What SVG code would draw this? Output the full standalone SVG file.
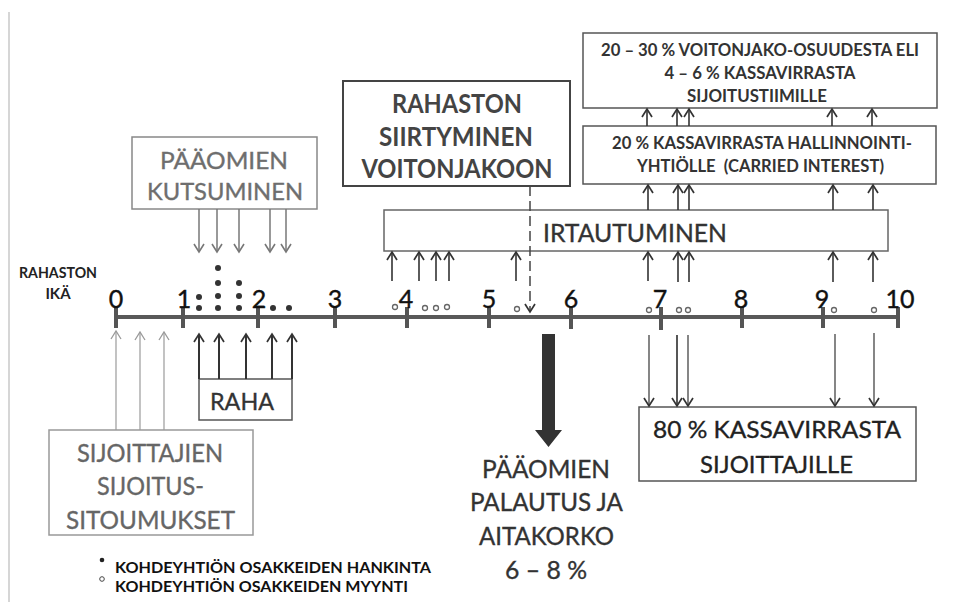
<svg xmlns="http://www.w3.org/2000/svg" width="953" height="605" viewBox="0 0 953 605">
<style>
text{font-family:Lato,"Open Sans","Liberation Sans",sans-serif}
.box{fill:#fff;stroke:#555;stroke-width:1.5}
.lbl{text-anchor:middle;font-size:24px;fill:#333;stroke:#333;stroke-width:0.35}
.grey{fill:#6e6e6e;stroke:#6e6e6e}
.bold{font-weight:bold}
.sm{font-size:16.5px;font-weight:bold;fill:#333;text-anchor:middle}
.tick{stroke:#555;stroke-width:4}
.num{font-size:25px;fill:#111;text-anchor:middle;stroke:#111;stroke-width:0.4}
.dot{fill:#333}
.odot{fill:#fff;stroke:#666;stroke-width:1.3}
.aDark{stroke:#333;stroke-width:1.6;fill:none;marker-end:url(#mDark)}
.aGrey{stroke:#777;stroke-width:1.5;fill:none;marker-end:url(#mGrey)}
.aLight{stroke:#9a9a9a;stroke-width:1.2;fill:none;marker-end:url(#mLight)}
</style>
<defs>
<marker id="mDark" viewBox="-10 -6 12 12" refX="0" refY="0" markerWidth="12" markerHeight="12" orient="auto" markerUnits="userSpaceOnUse"><path d="M-8,-5 L0,0 L-8,5" fill="none" stroke="#333" stroke-width="1.7"/></marker>
<marker id="mGrey" viewBox="-10 -6 12 12" refX="0" refY="0" markerWidth="12" markerHeight="12" orient="auto" markerUnits="userSpaceOnUse"><path d="M-8,-5 L0,0 L-8,5" fill="none" stroke="#777" stroke-width="1.6"/></marker>
<marker id="mLight" viewBox="-10 -6 12 12" refX="0" refY="0" markerWidth="12" markerHeight="12" orient="auto" markerUnits="userSpaceOnUse"><path d="M-8,-5 L0,0 L-8,5" fill="none" stroke="#9a9a9a" stroke-width="1.3"/></marker>
</defs>
<rect x="0" y="0" width="953" height="605" fill="#fff"/>
<line x1="9" y1="12" x2="9" y2="602" stroke="#bbb" stroke-width="1.2"/>

<g id="timeline">
<line x1="116" y1="317" x2="898" y2="317" stroke="#595959" stroke-width="4"/>
<line class="tick" x1="116" y1="307" x2="116" y2="328"/>
<line class="tick" x1="183" y1="307" x2="183" y2="328"/>
<line class="tick" x1="258" y1="307" x2="258" y2="328"/>
<line class="tick" x1="335" y1="307" x2="335" y2="328"/>
<line class="tick" x1="407" y1="307" x2="407" y2="328"/>
<line class="tick" x1="489" y1="307" x2="489" y2="328"/>
<line class="tick" x1="571" y1="307" x2="571" y2="329"/>
<line class="tick" x1="661" y1="307" x2="661" y2="330"/>
<line class="tick" x1="742" y1="307" x2="742" y2="328"/>
<line class="tick" x1="823" y1="307" x2="823" y2="328"/>
<line class="tick" x1="898" y1="307" x2="898" y2="328"/>
<text class="num" x="116" y="308">0</text>
<text class="num" x="184" y="308">1</text>
<text class="num" x="259" y="308">2</text>
<text class="num" x="335" y="308">3</text>
<text class="num" x="406" y="308">4</text>
<text class="num" x="489" y="308">5</text>
<text class="num" x="571" y="308">6</text>
<text class="num" x="660" y="308">7</text>
<text class="num" x="741" y="308">8</text>
<text class="num" x="822" y="308">9</text>
<text class="num" x="900" y="308">10</text>
<text class="bold" x="58" y="278" font-size="15" fill="#222" text-anchor="middle" textLength="78" lengthAdjust="spacingAndGlyphs">RAHASTON</text>
<text class="bold" x="58" y="299" font-size="15" fill="#222" text-anchor="middle">IKÄ</text>
</g>

<g id="acquisitions">
<circle class="dot" cx="199" cy="297" r="3"/>
<circle class="dot" cx="199" cy="308" r="3"/>
<circle class="dot" cx="218" cy="268" r="3"/>
<circle class="dot" cx="218" cy="283" r="3"/>
<circle class="dot" cx="218" cy="296" r="3"/>
<circle class="dot" cx="218" cy="308" r="3"/>
<circle class="dot" cx="239" cy="283" r="3"/>
<circle class="dot" cx="239" cy="296" r="3"/>
<circle class="dot" cx="239" cy="308" r="3"/>
<circle class="dot" cx="273" cy="308" r="3"/>
<circle class="dot" cx="289" cy="308" r="3"/>
</g>

<g id="sales">
<circle class="odot" cx="395" cy="307" r="2.5"/>
<circle class="odot" cx="425" cy="308" r="2.5"/>
<circle class="odot" cx="436" cy="308" r="2.5"/>
<circle class="odot" cx="447" cy="307" r="2.5"/>
<circle class="odot" cx="517" cy="309" r="2.5"/>
<circle class="odot" cx="649" cy="310" r="2.5"/>
<circle class="odot" cx="679" cy="310" r="2.5"/>
<circle class="odot" cx="688" cy="310" r="2.5"/>
<circle class="odot" cx="834" cy="310" r="2.5"/>
<circle class="odot" cx="874" cy="310" r="2.5"/>
</g>

<g id="kutsuminen">
<rect x="132" y="137" width="185" height="72" fill="#fff" stroke="#888" stroke-width="1.5"/>
<text class="lbl grey" x="224" y="169" textLength="128" lengthAdjust="spacingAndGlyphs">PÄÄOMIEN</text>
<text class="lbl grey" x="225" y="200" textLength="156" lengthAdjust="spacingAndGlyphs">KUTSUMINEN</text>
</g>

<g id="siirtyminen">
<rect x="343" y="81" width="227" height="105" fill="#fff" stroke="#444" stroke-width="2"/>
<text class="lbl bold" x="457" y="113" style="font-size:27px;fill:#444;stroke:none" textLength="130" lengthAdjust="spacingAndGlyphs">RAHASTON</text>
<text class="lbl bold" x="456" y="146" style="font-size:27px;fill:#444;stroke:none" textLength="154" lengthAdjust="spacingAndGlyphs">SIIRTYMINEN</text>
<text class="lbl bold" x="457" y="178" style="font-size:27px;fill:#444;stroke:none" textLength="191" lengthAdjust="spacingAndGlyphs">VOITONJAKOON</text>
</g>

<g id="irtautuminen">
<rect x="384" y="210" width="504" height="41" fill="#fff" stroke="#666" stroke-width="1.5"/>
<text class="lbl" x="635" y="242" style="font-size:25px" textLength="184" lengthAdjust="spacingAndGlyphs">IRTAUTUMINEN</text>
</g>

<g id="hallinnointiyhtio">
<rect class="box" x="583" y="126" width="353" height="58"/>
<text class="sm" x="762" y="149" textLength="300" lengthAdjust="spacingAndGlyphs">20 % KASSAVIRRASTA HALLINNOINTI-</text>
<text class="sm" x="760.5" y="172" xml:space="preserve" style="white-space:pre" textLength="247" lengthAdjust="spacingAndGlyphs">YHTIÖLLE  (CARRIED INTEREST)</text>
</g>

<g id="sijoitustiimi">
<rect class="box" x="583" y="33" width="354" height="75"/>
<text class="sm" x="760" y="56" textLength="318" lengthAdjust="spacingAndGlyphs">20 – 30 % VOITONJAKO-OSUUDESTA ELI</text>
<text class="sm" x="760" y="79" textLength="191" lengthAdjust="spacingAndGlyphs">4 – 6 % KASSAVIRRASTA</text>
<text class="sm" x="757" y="102" textLength="140" lengthAdjust="spacingAndGlyphs">SIJOITUSTIIMILLE</text>
</g>

<g id="raha">
<rect class="box" x="199" y="379" width="93" height="41"/>
<text class="lbl" x="242" y="410" textLength="64" lengthAdjust="spacingAndGlyphs">RAHA</text>
</g>

<g id="sitoumukset">
<rect x="49" y="430" width="204" height="105" fill="#fff" stroke="#999" stroke-width="1.5"/>
<text class="lbl" x="150" y="462" style="font-size:25px;fill:#666;stroke:#666" textLength="146" lengthAdjust="spacingAndGlyphs">SIJOITTAJIEN</text>
<text class="lbl" x="150.5" y="495" style="font-size:25px;fill:#666;stroke:#666" textLength="107" lengthAdjust="spacingAndGlyphs">SIJOITUS-</text>
<text class="lbl" x="150.5" y="529" style="font-size:25px;fill:#666;stroke:#666" textLength="169" lengthAdjust="spacingAndGlyphs">SITOUMUKSET</text>
</g>

<g id="palautus">
<polygon points="542,334 555,334 555,430 562,430 548.5,447 535,430 542,430" fill="#333"/>
<text class="lbl" x="546" y="478" style="font-size:25px" textLength="128" lengthAdjust="spacingAndGlyphs">PÄÄOMIEN</text>
<text class="lbl" x="546.5" y="511" style="font-size:25px" textLength="153" lengthAdjust="spacingAndGlyphs">PALAUTUS JA</text>
<text class="lbl" x="546.5" y="545" style="font-size:25px" textLength="135" lengthAdjust="spacingAndGlyphs">AITAKORKO</text>
<text class="lbl" x="546" y="579" style="font-size:25px" textLength="82" lengthAdjust="spacingAndGlyphs">6 – 8 %</text>
</g>

<g id="sijoittajille">
<rect class="box" x="639" y="407" width="277" height="74"/>
<text class="lbl" x="777" y="438" style="fill:#222;stroke:#222" textLength="248" lengthAdjust="spacingAndGlyphs">80 % KASSAVIRRASTA</text>
<text class="lbl" x="776.5" y="473" style="fill:#222;stroke:#222" textLength="153" lengthAdjust="spacingAndGlyphs">SIJOITTAJILLE</text>
</g>

<g id="legend">
<circle cx="102" cy="560" r="2.3" fill="#222"/>
<circle cx="102" cy="579" r="2.3" fill="#fff" stroke="#444" stroke-width="1"/>
<text class="bold" x="115" y="573" font-size="15.5" fill="#111" textLength="316" lengthAdjust="spacingAndGlyphs">KOHDEYHTIÖN OSAKKEIDEN HANKINTA</text>
<text class="bold" x="115" y="592" font-size="15.5" fill="#111" textLength="293" lengthAdjust="spacingAndGlyphs">KOHDEYHTIÖN OSAKKEIDEN MYYNTI</text>
</g>

<g id="connectors">
<line class="aGrey" x1="199" y1="209" x2="199" y2="252"/>
<line class="aGrey" x1="217" y1="209" x2="217" y2="252"/>
<line class="aGrey" x1="239" y1="209" x2="239" y2="252"/>
<line class="aGrey" x1="270" y1="209" x2="270" y2="252"/>
<line class="aGrey" x1="286" y1="209" x2="286" y2="252"/>

<line class="aLight" x1="116" y1="430" x2="116" y2="331"/>
<line class="aLight" x1="140" y1="430" x2="140" y2="332"/>
<line class="aLight" x1="164" y1="430" x2="164" y2="332"/>

<line class="aDark" style="stroke-width:2" x1="199" y1="379" x2="199" y2="334"/>
<line class="aDark" style="stroke-width:2" x1="219" y1="379" x2="219" y2="334"/>
<line class="aDark" style="stroke-width:2" x1="246" y1="379" x2="246" y2="334"/>
<line class="aDark" style="stroke-width:2" x1="272" y1="379" x2="272" y2="334"/>
<line class="aDark" style="stroke-width:2" x1="292" y1="379" x2="292" y2="334"/>

<line class="aDark" x1="392" y1="281" x2="392" y2="252"/>
<line class="aDark" x1="419" y1="281" x2="419" y2="252"/>
<line class="aDark" x1="436" y1="281" x2="436" y2="252"/>
<line class="aDark" x1="449" y1="281" x2="449" y2="252"/>
<line class="aDark" x1="516" y1="281" x2="516" y2="252"/>
<line class="aDark" x1="648" y1="281" x2="648" y2="252"/>
<line class="aDark" x1="678" y1="282" x2="678" y2="252"/>
<line class="aDark" x1="689" y1="282" x2="689" y2="252"/>
<line class="aDark" x1="833" y1="282" x2="833" y2="252"/>
<line class="aDark" x1="873" y1="282" x2="873" y2="252"/>

<line class="aDark" x1="648" y1="210" x2="648" y2="185"/>
<line class="aDark" x1="678" y1="210" x2="678" y2="185"/>
<line class="aDark" x1="689" y1="210" x2="689" y2="185"/>
<line class="aDark" x1="833" y1="210" x2="833" y2="185"/>
<line class="aDark" x1="873" y1="210" x2="873" y2="185"/>

<line class="aDark" x1="647" y1="126" x2="647" y2="109"/>
<line class="aDark" x1="677" y1="126" x2="677" y2="109"/>
<line class="aDark" x1="689" y1="126" x2="689" y2="109"/>
<line class="aDark" x1="832" y1="126" x2="832" y2="109"/>
<line class="aDark" x1="872" y1="126" x2="872" y2="109"/>

<line class="aDark" style="stroke:#444;stroke-width:1.3" x1="649" y1="335" x2="649" y2="406"/>
<line class="aDark" style="stroke:#444;stroke-width:1.8" x1="677" y1="335" x2="677" y2="406"/>
<line class="aDark" style="stroke:#444;stroke-width:1.3" x1="688" y1="335" x2="688" y2="406"/>
<line class="aDark" style="stroke:#444;stroke-width:1.3" x1="835" y1="334" x2="835" y2="406"/>
<line class="aDark" style="stroke:#444;stroke-width:1.3" x1="874" y1="333" x2="874" y2="406"/>

<line class="aDark" style="stroke:#444;stroke-width:1.5;stroke-dasharray:10 5" x1="530" y1="186" x2="530" y2="312"/>
</g>
</svg>
